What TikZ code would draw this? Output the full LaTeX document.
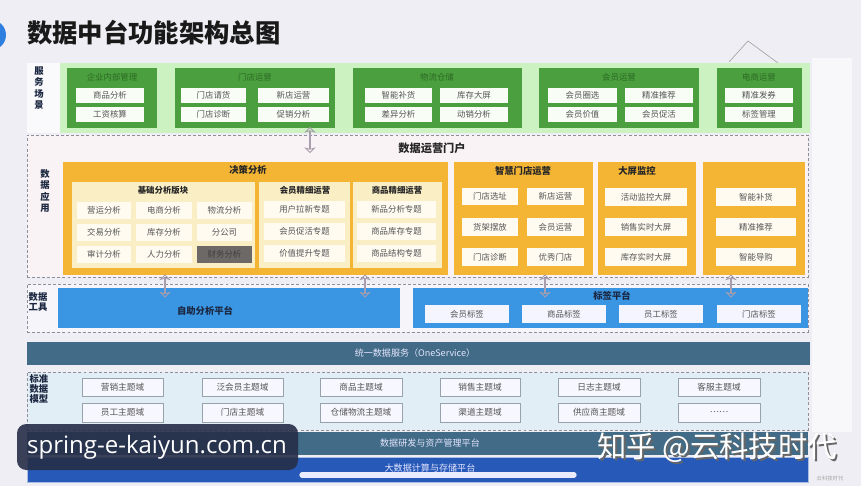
\documentclass[tikz,border=0pt]{standalone}
\usepackage{fontspec}
\setmainfont{Noto Sans CJK SC}
\newfontfamily\wmfont{Open Sans}
\usetikzlibrary{shapes.arrows}
\definecolor{pagebg}{HTML}{EEEEF4}
\definecolor{titleblue}{HTML}{2F7FE0}
\definecolor{glight}{HTML}{CDF2C2}
\definecolor{gdark}{HTML}{4C9F3E}
\definecolor{gtxt}{HTML}{2A6A24}
\definecolor{gitemc}{HTML}{F8FDF6}
\definecolor{appbg}{HTML}{FAF3F5}
\definecolor{orangec}{HTML}{F4B535}
\definecolor{creamc}{HTML}{FAEEC4}
\definecolor{oitemc}{HTML}{FFFBF1}
\definecolor{darkitem}{HTML}{6C6966}
\definecolor{itemtxt}{HTML}{555555}
\definecolor{labtxt}{HTML}{1B2740}
\definecolor{dashc}{HTML}{8E8E9A}
\definecolor{bluec}{HTML}{3A95E2}
\definecolor{tealbar}{HTML}{416B86}
\definecolor{botblue}{HTML}{2759B8}
\definecolor{modelbg}{HTML}{E2EEF6}
\definecolor{mitemdraw}{HTML}{98A2AC}
\definecolor{arrowc}{HTML}{A89EAE}
\definecolor{wmbox}{HTML}{262E48}
\newcommand\bx[7]{\node[#2, inner sep=0pt, outer sep=0pt, minimum width={((#5)-(#3))*0.75pt}, minimum height={((#6)-(#4))*0.75pt}] (#1) at ({((#3)+(#5))/2},{((#4)+(#6))/2}) {#7};}
\tikzset{
  gbox/.style={fill=gdark},
  gitem/.style={fill=gitemc, text=itemtxt, font=\fontsize{6.3}{7}\selectfont},
  gtitle/.style={text=gtxt, font=\fontsize{6.3}{7}\selectfont},
  obox/.style={fill=orangec},
  cpanel/.style={fill=creamc},
  oitem/.style={fill=oitemc, text=itemtxt, font=\fontsize{6.3}{7}\selectfont},
  ditem/.style={fill=darkitem, text=black!75, font=\fontsize{6.3}{7}\selectfont},
  otitle/.style={text=black!85, font=\bfseries\fontsize{7}{8}\selectfont},
  ptitle/.style={text=black!85, font=\bfseries\fontsize{6.3}{7}\selectfont},
  sidelab/.style={text=labtxt, font=\bfseries\fontsize{7}{8}\selectfont, align=left},
  dashbox/.style={draw=dashc, dash pattern=on 2.2pt off 1.6pt, line width=0.6pt},
  bluebox/.style={fill=bluec},
  bitem/.style={fill=white!96!blue, text=itemtxt, font=\fontsize{6.3}{7}\selectfont},
  mitem/.style={fill=white!97!blue, draw=mitemdraw, line width=0.4pt, text=itemtxt, font=\fontsize{6.5}{7.5}\selectfont},
  bartext/.style={text=white!90!blue, font=\fontsize{6.8}{8}\selectfont},
  darrow/.style={double arrow, draw=arrowc, line width=0.6pt, fill=none, minimum width=5.5pt, double arrow head extend=3pt, double arrow head indent=0.8pt, inner sep=0pt, rotate=90}
}
\begin{document}
\begin{tikzpicture}[x=0.75pt,y=-0.75pt]
\useasboundingbox (0,0) rectangle (861,486);
\clip (0,0) rectangle (861,486);
\fill[pagebg] (0,0) rectangle (861,486);
\fill[white!60!pagebg] (812,58) rectangle (852,432);
% title
\fill[titleblue] (-9,35) circle (15);
\node[anchor=west, inner sep=0pt, font=\bfseries\fontsize{19}{22}\selectfont, text=black!90] (title) at (27,33) {数据中台功能架构总图};
% stray triangle
\coordinate (t1) at (729,62); \coordinate (t2) at (748,41); \coordinate (t3) at (778,63);
\draw[gray!70, line width=0.5pt] (t1) -- (t2) -- (t3);
% ===== service scenes
\bx{svclab}{fill=white!70!pagebg}{27}{63}{60}{133}{}
\bx{svcband}{fill=glight}{60}{63}{810}{133}{}
\node[sidelab, align=center, font=\bfseries\fontsize{7}{8.6}\selectfont] (svct) at (39,88) {服\\务\\场\\景};
\bx{g1}{gbox}{67}{68}{157}{128}{}
\node[gtitle] (g1t) at (112,77) {企业内部管理};
\bx{g1a}{gitem}{76}{88}{144}{103}{商品分析}
\bx{g1b}{gitem}{76}{107}{144}{122}{工资核算}
\bx{g2}{gbox}{175}{68}{335}{128}{}
\node[gtitle] (g2t) at (255,77) {门店运营};
\bx{g2a}{gitem}{181}{88}{246}{103}{门店请货}
\bx{g2b}{gitem}{258}{88}{329}{103}{新店运营}
\bx{g2c}{gitem}{181}{107}{246}{122}{门店诊断}
\bx{g2d}{gitem}{258}{107}{329}{122}{促销分析}
\bx{g3}{gbox}{353}{68}{522}{128}{}
\node[gtitle] (g3t) at (437,77) {物流仓储};
\bx{g3a}{gitem}{365}{88}{432}{103}{智能补货}
\bx{g3b}{gitem}{440}{88}{508}{103}{库存大屏}
\bx{g3c}{gitem}{365}{107}{432}{122}{差异分析}
\bx{g3d}{gitem}{440}{107}{508}{122}{动销分析}
\bx{g4}{gbox}{539}{68}{699}{128}{}
\node[gtitle] (g4t) at (619,77) {会员运营};
\bx{g4a}{gitem}{548}{88}{617}{103}{会员圈选}
\bx{g4b}{gitem}{625}{88}{693}{103}{精准推荐}
\bx{g4c}{gitem}{548}{107}{617}{122}{会员价值}
\bx{g4d}{gitem}{625}{107}{693}{122}{会员促活}
\bx{g5}{gbox}{717}{68}{802}{128}{}
\node[gtitle] (g5t) at (759,77) {电商运营};
\bx{g5a}{gitem}{725}{88}{793}{103}{精准发券}
\bx{g5b}{gitem}{725}{107}{793}{122}{标签管理}
% ===== data application
\bx{app}{dashbox, fill=appbg}{27}{135}{808}{277}{}
\node[sidelab, align=center, font=\bfseries\fontsize{7}{8.6}\selectfont] (appt) at (45,191) {数\\据\\应\\用};
\node[font=\bfseries\fontsize{8.4}{10}\selectfont, text=black!85] (portal) at (432,148) {数据运营门户};
% 决策分析
\bx{o1}{obox}{63}{162}{448}{275}{}
\node[otitle] (o1t) at (248,170) {决策分析};
\bx{p1}{cpanel}{72}{182}{255}{268}{}
\node[ptitle] (p1t) at (163,190) {基础分析版块};
\bx{p1a}{oitem}{77}{202}{131}{219}{营运分析}
\bx{p1b}{oitem}{136}{202}{192}{219}{电商分析}
\bx{p1c}{oitem}{197}{202}{252}{219}{物流分析}
\bx{p1d}{oitem}{77}{224}{131}{241}{交易分析}
\bx{p1e}{oitem}{136}{224}{192}{241}{库存分析}
\bx{p1f}{oitem}{197}{224}{252}{241}{分公司}
\bx{p1g}{oitem}{77}{246}{131}{263}{审计分析}
\bx{p1h}{oitem}{136}{246}{192}{263}{人力分析}
\bx{p1i}{ditem}{197}{246}{252}{263}{财务分析}
\bx{p2}{cpanel}{259}{182}{350}{268}{}
\node[ptitle] (p2t) at (305,190) {会员精细运营};
\bx{p2a}{oitem}{264}{201}{345}{218}{用户拉新专题}
\bx{p2b}{oitem}{264}{223}{345}{240}{会员促活专题}
\bx{p2c}{oitem}{264}{245}{345}{262}{价值提升专题}
\bx{p3}{cpanel}{353}{182}{442}{268}{}
\node[ptitle] (p3t) at (397,190) {商品精细运营};
\bx{p3a}{oitem}{357}{201}{436}{218}{新品分析专题}
\bx{p3b}{oitem}{357}{223}{436}{240}{商品库存专题}
\bx{p3c}{oitem}{357}{245}{436}{262}{商品结构专题}
% 智慧门店运营
\bx{o2}{obox}{454}{162}{593}{275}{}
\node[otitle] (o2t) at (523,171) {智慧门店运营};
\bx{o2a}{oitem}{462}{188}{518}{205}{门店选址}
\bx{o2b}{oitem}{527}{188}{584}{205}{新店运营}
\bx{o2c}{oitem}{462}{218}{518}{236}{货架摆放}
\bx{o2d}{oitem}{527}{218}{584}{236}{会员运营}
\bx{o2e}{oitem}{462}{248}{518}{266}{门店诊断}
\bx{o2f}{oitem}{527}{248}{584}{266}{优秀门店}
% 大屏监控
\bx{o3}{obox}{598}{162}{696}{275}{}
\node[otitle] (o3t) at (637,171) {大屏监控};
\bx{o3a}{oitem}{605}{188}{687}{206}{活动监控大屏}
\bx{o3b}{oitem}{605}{218}{687}{236}{销售实时大屏}
\bx{o3c}{oitem}{605}{248}{687}{266}{库存实时大屏}
% fourth
\bx{o4}{obox}{703}{162}{805}{275}{}
\bx{o4a}{oitem}{716}{188}{796}{206}{智能补货}
\bx{o4b}{oitem}{716}{218}{796}{236}{精准推荐}
\bx{o4c}{oitem}{716}{248}{796}{266}{智能导购}
% ===== data tools
\bx{tools}{dashbox, fill=white!50!pagebg}{27}{284}{808}{332}{}
\node[sidelab, font=\bfseries\fontsize{7}{8}\selectfont] (toolst) at (38,302) {数据\\工具};
\bx{self}{bluebox}{58}{288}{400}{328}{}
\node[text=labtxt, font=\bfseries\fontsize{7}{8}\selectfont] (selft) at (205,311) {自助分析平台};
\bx{tag}{bluebox}{413}{288}{808}{328}{}
\node[text=labtxt, font=\bfseries\fontsize{7}{8}\selectfont] (tagt) at (612,295.5) {标签平台};
\bx{tga}{bitem}{425}{305}{509}{323}{会员标签}
\bx{tgb}{bitem}{522}{305}{606}{323}{商品标签}
\bx{tgc}{bitem}{619}{305}{703}{323}{员工标签}
\bx{tgd}{bitem}{717}{305}{801}{323}{门店标签}
% arrows
\node[darrow, minimum height={25*0.75pt}] (ar0) at (310,140) {};
\node[darrow, minimum height={22*0.75pt}] (ar1) at (165,286) {};
\node[darrow, minimum height={22*0.75pt}] (ar2) at (365,286) {};
\node[darrow, minimum height={22*0.75pt}] (ar3) at (545,286) {};
\node[darrow, minimum height={22*0.75pt}] (ar4) at (731,286) {};
% ===== OneService
\bx{one}{fill=tealbar}{27}{342}{810}{365}{}
\node[bartext] (onet) at (415,353) {统一数据服务（OneService）};
% ===== standard data model
\bx{model}{dashbox, fill=modelbg}{27}{372}{808}{430}{}
\node[sidelab, font=\bfseries\fontsize{7}{7.6}\selectfont] (modelt) at (39,389) {标准\\数据\\模型};
\bx{m1}{mitem}{82}{378}{163}{396}{营销主题域}
\bx{m2}{mitem}{202}{378}{283}{396}{泛会员主题域}
\bx{m3}{mitem}{320}{378}{402}{396}{商品主题域}
\bx{m4}{mitem}{440}{378}{520}{396}{销售主题域}
\bx{m5}{mitem}{558}{378}{640}{396}{日志主题域}
\bx{m6}{mitem}{678}{378}{760}{396}{客服主题域}
\bx{m7}{mitem}{82}{403}{163}{422}{员工主题域}
\bx{m8}{mitem}{202}{403}{283}{422}{门店主题域}
\bx{m9}{mitem}{320}{403}{402}{422}{仓储物流主题域}
\bx{m10}{mitem}{440}{403}{520}{422}{渠道主题域}
\bx{m11}{mitem}{558}{403}{640}{422}{供应商主题域}
\bx{m12}{mitem}{678}{403}{760}{422}{……}
% ===== bottom bars
\bx{dev}{fill=tealbar}{27}{432}{808}{455}{}
\node[bartext] (devt) at (430,443) {数据研发与资产管理平台};
\bx{comp}{fill=botblue, draw=white!60!botblue, line width=0.5pt}{27}{457}{808}{482}{}
\node[bartext] (compt) at (430,468) {大数据计算与存储平台};
\coordinate (pb1) at (302,475); \coordinate (pb2) at (574,475);
\draw[white!92!blue, line width=4pt, line cap=round] (pb1) -- (pb2);
% ===== watermarks
\bx{wm}{fill=wmbox, fill opacity=0.9, rounded corners=7pt}{17}{424}{298}{470}{}
\node[text=white, font=\wmfont\fontsize{18}{20}\selectfont, inner sep=0pt] (wmt) at (157,447) {spring-e-kaiyun.com.cn};
\node[text=black!60, font=\fontsize{22}{25}\selectfont, inner sep=0pt, anchor=west] (zhs) at (598.8,449.8) {知乎 @云科技时代};
\node[text=white, font=\fontsize{22}{25}\selectfont, inner sep=0pt, anchor=west] (zh) at (597,448) {知乎 @云科技时代};
\node[text=gray!70, font=\fontsize{4}{5}\selectfont, inner sep=0pt] (small) at (830,478) {云科技时代};
\end{tikzpicture}
\end{document}
